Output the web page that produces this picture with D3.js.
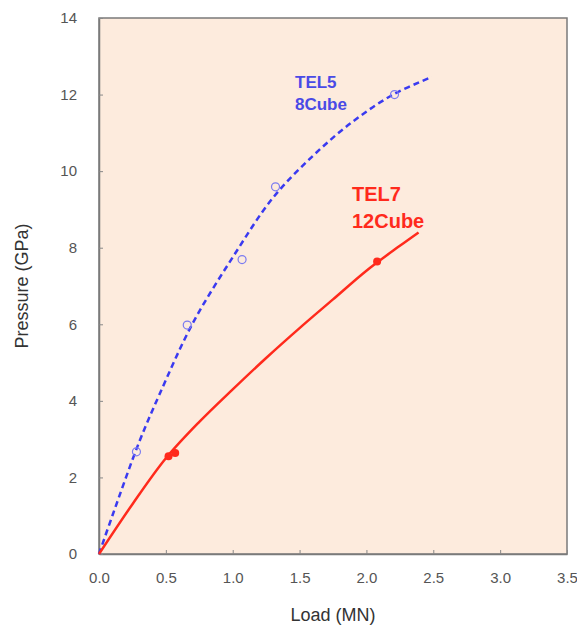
<!DOCTYPE html>
<html>
<head>
<meta charset="utf-8">
<script src="https://cdn.jsdelivr.net/npm/d3@7"></script>
<style>
  body { margin: 0; background: #fff; }
  text { font-family: "Liberation Sans", Arial, sans-serif; }
</style>
</head>
<body>
<svg id="chart" width="577" height="632"></svg>
<script>
// Tick values
const xTicks = [0.0, 0.5, 1.0, 1.5, 2.0, 2.5, 3.0, 3.5];
const yTicks = [0, 2, 4, 6, 8, 10, 12, 14];

const tel5Load = [0.28, 0.66, 1.07, 1.32, 2.21];
const tel5Pressure = [2.67, 5.98, 7.69, 9.59, 12.0];
const tel5CurveLoad = [0, 0.1, 0.3, 0.45, 0.7, 1.0, 1.3, 1.6, 1.9, 2.2, 2.49];
const tel5CurvePressure = [0, 1.0, 2.92, 4.15, 6.02, 7.75, 9.3, 10.4, 11.3, 12.0, 12.46];

// TEL7 (12Cube): measured points and fitted curve
const tel7Load = [0.52, 0.57, 2.08];
const tel7Pressure = [2.55, 2.64, 7.64];
const tel7CurveLoad = [0, 0.25, 0.5, 0.75, 1.0, 1.25, 1.5, 1.75, 2.0, 2.25, 2.39];
const tel7CurvePressure = [0, 1.3, 2.5, 3.45, 4.3, 5.12, 5.9, 6.65, 7.4, 8.05, 8.4];

const svg = d3.select("#chart");
const margin = {top: 18, right: 10, bottom: 78, left: 99};
const width = 577, height = 632;

const x = d3.scaleLinear().domain([0, 3.5]).range([margin.left, width - margin.right]);
const y = d3.scaleLinear().domain([0, 14]).range([height - margin.bottom, margin.top]);

// plot background
svg.append("rect")
    .attr("x", x(0)).attr("y", y(14))
    .attr("width", x(3.5) - x(0)).attr("height", y(0) - y(14))
    .attr("fill", "#fdebdd")
    .attr("stroke", "#7a7a7a")
    .attr("stroke-width", 1.5);

// axes with inward ticks
const xAxis = svg.append("g")
    .attr("transform", `translate(0,${y(0)})`)
    .call(d3.axisBottom(x).tickValues(xTicks).tickFormat(d3.format(".1f"))
        .tickSizeInner(-4).tickSizeOuter(0).tickPadding(18));
const yAxis = svg.append("g")
    .attr("transform", `translate(${x(0)},0)`)
    .call(d3.axisLeft(y).tickValues(yTicks).tickFormat(d3.format("d"))
        .tickSizeInner(-4).tickSizeOuter(0).tickPadding(22));

[xAxis, yAxis].forEach(g => {
    g.select(".domain").attr("stroke", "#7a7a7a").attr("stroke-width", 1.5);
    g.selectAll(".tick line").attr("stroke", "#888");
    g.selectAll(".tick text")
        .attr("fill", "#555")
        .style("font-size", "15px")
        .style("font-family", "'Liberation Sans', Arial, sans-serif");
});

// axis titles
svg.append("text")
    .attr("x", (x(0) + x(3.5)) / 2)
    .attr("y", 621)
    .attr("text-anchor", "middle")
    .attr("fill", "#333")
    .style("font-size", "18px")
    .text("Load (MN)");

svg.append("text")
    .attr("transform", "rotate(-90)")
    .attr("x", -(y(0) + y(14)) / 2)
    .attr("y", 28)
    .attr("text-anchor", "middle")
    .attr("fill", "#333")
    .style("font-size", "18px")
    .text("Pressure (GPa)");

const line = d3.line()
    .x(d => x(d[0]))
    .y(d => y(d[1]))
    .curve(d3.curveCatmullRom.alpha(0.5));

// TEL5 dashed curve
svg.append("path")
    .datum(d3.zip(tel5CurveLoad, tel5CurvePressure))
    .attr("d", line)
    .attr("fill", "none")
    .attr("stroke", "#3a3af0")
    .attr("stroke-width", 2.5)
    .attr("stroke-dasharray", "6,4");

svg.selectAll(".tel5-pt")
    .data(d3.zip(tel5Load, tel5Pressure))
    .enter().append("circle")
    .attr("class", "tel5-pt")
    .attr("cx", d => x(d[0]))
    .attr("cy", d => y(d[1]))
    .attr("r", 4)
    .attr("fill", "none")
    .attr("stroke", "#7b7bf0")
    .attr("stroke-width", 1.2);

// TEL7 solid curve
svg.append("path")
    .datum(d3.zip(tel7CurveLoad, tel7CurvePressure))
    .attr("d", line)
    .attr("fill", "none")
    .attr("stroke", "#ff2a1c")
    .attr("stroke-width", 2.5);

svg.selectAll(".tel7-pt")
    .data(d3.zip(tel7Load, tel7Pressure))
    .enter().append("circle")
    .attr("class", "tel7-pt")
    .attr("cx", d => x(d[0]))
    .attr("cy", d => y(d[1]))
    .attr("r", 4)
    .attr("fill", "#ff2a1c");

// curve labels
const blueLabel = svg.append("text")
    .attr("fill", "#4a4ae6")
    .style("font-size", "17px")
    .style("font-weight", "bold");
blueLabel.append("tspan").attr("x", 295).attr("y", 88).text("TEL5");
blueLabel.append("tspan").attr("x", 295).attr("y", 110).text("8Cube");

const redLabel = svg.append("text")
    .attr("fill", "#ff2a1c")
    .style("font-size", "20px")
    .style("font-weight", "bold");
redLabel.append("tspan").attr("x", 352).attr("y", 201).text("TEL7");
redLabel.append("tspan").attr("x", 352).attr("y", 228).text("12Cube");
</script>
</body>
</html>
